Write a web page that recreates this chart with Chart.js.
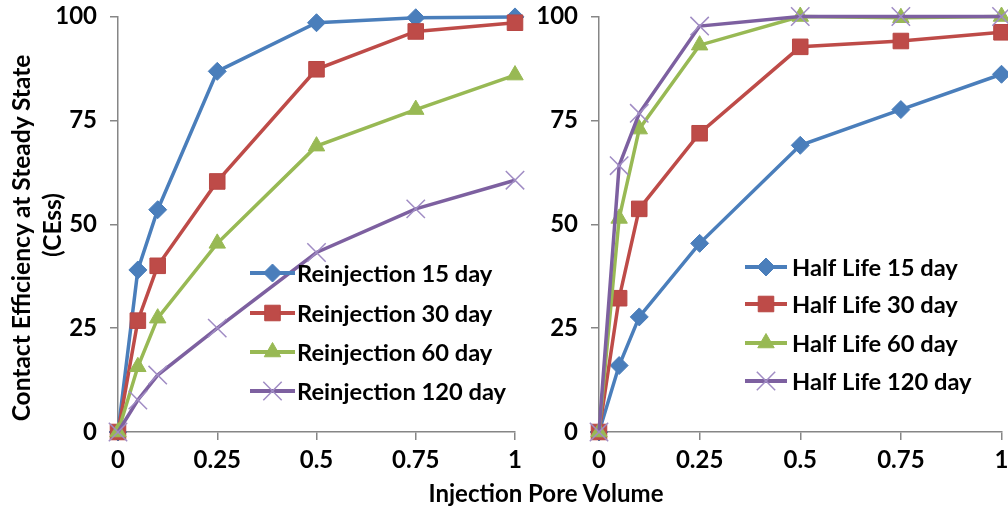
<!DOCTYPE html>
<html><head><meta charset="utf-8">
<script src="https://cdn.jsdelivr.net/npm/chart.js@4.4.1/dist/chart.umd.min.js"></script>
<style>
html,body{margin:0;padding:0;background:#fff;width:1008px;height:508px;overflow:hidden;position:relative;}
#c1{position:absolute;left:0;top:0;}
#c2{position:absolute;left:525px;top:0;}
.t{position:absolute;font-family:Lato,sans-serif;font-weight:bold;font-size:24.5px;color:#000;white-space:nowrap;line-height:1;}
.rot{transform:translate(-50%,-50%) rotate(-90deg);}
.hor{transform:translate(-50%,-50%);}
</style></head><body>
<canvas id="c1" width="545" height="508"></canvas>
<canvas id="c2" width="491" height="508"></canvas>
<div class="t rot" style="left:21px;top:238px;">Contact Efficiency at Steady State</div>
<div class="t rot" style="left:52px;top:225px;">(CEss)</div>
<div class="t hor" style="left:546px;top:493px;font-size:24px;">Injection Pore Volume</div>
<script>
// ---- data ----
const poreVolume = [0, 0.05, 0.1, 0.25, 0.5, 0.75, 1];
const xTicks = [0, 0.25, 0.5, 0.75, 1];
const yTicks = [0, 25, 50, 75, 100];

const reinjectionLabels = ['Reinjection 15 day', 'Reinjection 30 day', 'Reinjection 60 day', 'Reinjection 120 day'];
const reinjection15 = [0, 39, 53.5, 86.8, 98.5, 99.7, 99.9];
const reinjection30 = [0, 26.8, 40, 60.3, 87.3, 96.4, 98.5];
const reinjection60 = [0, 15.7, 27.4, 45.4, 68.8, 77.6, 85.9];
const reinjection120 = [0, 7.7, 13.7, 25, 43.2, 53.7, 60.6];

const halfLifeLabels = ['Half Life 15 day', 'Half Life 30 day', 'Half Life 60 day', 'Half Life 120 day'];
const halfLife15 = [0, 16, 27.7, 45.4, 69, 77.6, 86.1];
const halfLife30 = [0, 32.2, 53.7, 71.9, 92.7, 94.1, 96.2];
const halfLife60 = [0, 51.4, 72.9, 93.1, 100, 99.7, 100];
const halfLife120 = [0, 64.1, 76.7, 97.7, 100, 100, 100];

// ---- styles ----
const FONT = 'Lato, sans-serif';
const styles = [
  {color:'#4A7EBB', pointStyle:'rectRot', radius:9, pbColor:'#4A7EBB', pbWidth:1},
  {color:'#BE4B48', pointStyle:'rect', radius:11, pbColor:'#B84744', pbWidth:1},
  {color:'#98B954', pointStyle:'triangle', radius:9.5, pbColor:'#98B954', pbWidth:1},
  {color:'#7D60A0', pointStyle:'crossRot', radius:13, pbColor:'#A08CC4', pbWidth:1.5}
];

function makeDatasets(labels, series) {
  return series.map((vals, i) => {
    const s = styles[i];
    return {
      label: labels[i],
      data: poreVolume.map((x, k) => ({x: x, y: vals[k]})),
      borderColor: s.color,
      backgroundColor: s.color,
      borderWidth: 3.5,
      pointStyle: s.pointStyle,
      pointRadius: s.radius,
      pointHoverRadius: s.radius,
      pointBackgroundColor: s.color,
      pointBorderColor: s.pbColor,
      pointBorderWidth: s.pbWidth,
      tension: 0,
      order: 3 - i,
      clip: false
    };
  });
}

function drawMarker(ctx, style, r, x, y, fill, stroke, lw) {
  ctx.save();
  ctx.fillStyle = fill; ctx.strokeStyle = stroke; ctx.lineWidth = lw;
  ctx.beginPath();
  if (style === 'rectRot') {
    ctx.moveTo(x - r, y); ctx.lineTo(x, y - r); ctx.lineTo(x + r, y); ctx.lineTo(x, y + r); ctx.closePath();
    ctx.fill(); ctx.stroke();
  } else if (style === 'rect') {
    const s = Math.SQRT1_2 * r;
    ctx.rect(x - s, y - s, 2 * s, 2 * s); ctx.fill(); ctx.stroke();
  } else if (style === 'triangle') {
    let a = 0;
    ctx.moveTo(x + Math.sin(a) * r, y - Math.cos(a) * r);
    a += 2 * Math.PI / 3; ctx.lineTo(x + Math.sin(a) * r, y - Math.cos(a) * r);
    a += 2 * Math.PI / 3; ctx.lineTo(x + Math.sin(a) * r, y - Math.cos(a) * r);
    ctx.closePath(); ctx.fill(); ctx.stroke();
  } else if (style === 'crossRot') {
    const o = Math.cos(Math.PI / 4) * r;
    ctx.moveTo(x - o, y - o); ctx.lineTo(x + o, y + o);
    ctx.moveTo(x + o, y - o); ctx.lineTo(x - o, y + o);
    ctx.stroke();
  }
  ctx.restore();
}

function legendPlugin(cfg) {
  return {
    id: 'customLegend',
    afterDatasetsDraw(chart) {
      const ctx = chart.ctx;
      chart.data.datasets.forEach((ds, i) => {
        const s = styles[i];
        const y = cfg.ys[i];
        ctx.save();
        ctx.strokeStyle = s.color; ctx.lineWidth = 4; ctx.lineCap = 'butt';
        ctx.beginPath(); ctx.moveTo(cfg.x0, y); ctx.lineTo(cfg.x1, y); ctx.stroke();
        ctx.restore();
        drawMarker(ctx, s.pointStyle, s.radius, (cfg.x0 + cfg.x1) / 2, y, s.color, s.pbColor, s.pbWidth);
        ctx.save();
        ctx.fillStyle = '#000';
        ctx.font = 'bold 23.7px ' + FONT;
        ctx.textBaseline = 'middle';
        ctx.textAlign = 'left';
        ctx.fillText(ds.label, cfg.tx, y + 1);
        ctx.restore();
      });
    }
  };
}

function makeOptions(yWidth, padRight) {
  const axisColor = '#868686';
  return {
    responsive: false,
    animation: false,
    events: [],
    layout: {padding: {top: 16.5, right: padRight, left: 0, bottom: 0}},
    plugins: {legend: {display: false}, tooltip: {enabled: false}, title: {display: false}},
    scales: {
      x: {
        type: 'linear', min: 0, max: 1,
        afterBuildTicks(scale) { scale.ticks = xTicks.map(v => ({value: v})); },
        afterFit(scale) { scale.height = 76; scale.paddingLeft = 0; scale.paddingRight = 0; },
        border: {display: true, color: axisColor, width: 1.5},
        grid: {display: true, drawOnChartArea: false, drawTicks: true, tickLength: 8, color: axisColor, lineWidth: 1.5},
        ticks: {color: '#000', font: {family: FONT, size: 24, weight: 'bold'}, padding: 6, maxRotation: 0, autoSkip: false,
          callback: v => String(v)}
      },
      y: {
        type: 'linear', min: 0, max: 100,
        afterBuildTicks(scale) { scale.ticks = yTicks.map(v => ({value: v})); },
        afterFit(scale) { scale.width = yWidth; scale.paddingTop = 0; scale.paddingBottom = 0; },
        border: {display: true, color: axisColor, width: 1.5},
        grid: {display: true, drawOnChartArea: false, drawTicks: true, tickLength: 8, color: axisColor, lineWidth: 1.5},
        ticks: {color: '#000', font: {family: FONT, size: 24, weight: 'bold'}, padding: 13, autoSkip: false,
          callback: v => String(v)}
      }
    }
  };
}

new Chart(document.getElementById('c1'), {
  type: 'line',
  data: {datasets: makeDatasets(reinjectionLabels, [reinjection15, reinjection30, reinjection60, reinjection120])},
  options: makeOptions(118, 30),
  plugins: [legendPlugin({x0: 250, x1: 295, tx: 297, ys: [273, 313, 352, 391]})]
});

new Chart(document.getElementById('c2'), {
  type: 'line',
  data: {datasets: makeDatasets(halfLifeLabels, [halfLife15, halfLife30, halfLife60, halfLife120])},
  options: makeOptions(74, 7),
  plugins: [legendPlugin({x0: 220, x1: 262, tx: 267, ys: [267, 304, 343, 381]})]
});
</script>
</body></html>
